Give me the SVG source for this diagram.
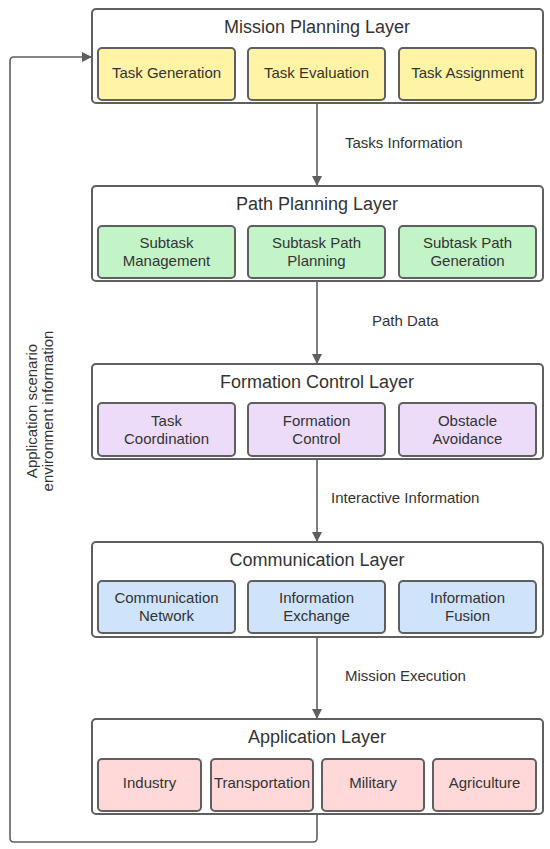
<svg xmlns="http://www.w3.org/2000/svg" width="550" height="849" viewBox="0 0 550 849">
<style>
.layer{fill:#fff;stroke:#5f5f5f;stroke-width:2}
.sub{stroke:#5f5f5f;stroke-width:2}
.y{fill:#fff4a6}.g{fill:#c3f4c8}.p{fill:#eddcf9}.b{fill:#cfe3fb}.r{fill:#ffd9da}
.t{font-family:"Liberation Sans",Arial,sans-serif;font-size:18px;fill:#333;text-anchor:middle}
.s{font-family:"Liberation Sans",Arial,sans-serif;font-size:15px;fill:#333;text-anchor:middle}
.l{font-family:"Liberation Sans",Arial,sans-serif;font-size:15px;fill:#333}
.c{fill:none;stroke:#5f5f5f;stroke-width:1.6}
</style>
<defs>
<marker id="ah" markerWidth="10" markerHeight="10" refX="9" refY="5" orient="auto" markerUnits="userSpaceOnUse">
<path d="M0,0 L10,5 L0,10 Z" fill="#5f5f5f"/>
</marker>
</defs>
<rect width="550" height="849" fill="#fff"/>
<g id="connectors">
<path class="c" d="M317,104 V185" marker-end="url(#ah)"/>
<path class="c" d="M317,282 V363" marker-end="url(#ah)"/>
<path class="c" d="M317,460 V541" marker-end="url(#ah)"/>
<path class="c" d="M317,638 V718" marker-end="url(#ah)"/>
<path class="c" d="M317,815 V838 Q317,842 313,842 H14 Q10,842 10,838 V61 Q10,57 14,57 H91" marker-end="url(#ah)"/>
<text class="l" x="345" y="148">Tasks Information</text>
<text class="l" x="372" y="326">Path Data</text>
<text class="l" x="331" y="503">Interactive Information</text>
<text class="l" x="345" y="681">Mission Execution</text>
<text class="l" transform="translate(37,411) rotate(-90)" text-anchor="middle">Application scenario</text>
<text class="l" transform="translate(53,411) rotate(-90)" text-anchor="middle">environment information</text>
</g>
<g id="mission">
<rect class="layer" x="92" y="9" width="451" height="94" rx="4"/>
<text class="t" x="317" y="33">Mission Planning Layer</text>
<rect class="sub y" x="98" y="48" width="137" height="52" rx="4"/>
<text class="s" x="166.5" y="78">Task Generation</text>
<rect class="sub y" x="248" y="48" width="137" height="52" rx="4"/>
<text class="s" x="316.5" y="78">Task Evaluation</text>
<rect class="sub y" x="399" y="48" width="137" height="52" rx="4"/>
<text class="s" x="467.5" y="78">Task Assignment</text>
</g>
<g id="path">
<rect class="layer" x="92" y="186" width="451" height="95" rx="4"/>
<text class="t" x="317" y="210">Path Planning Layer</text>
<rect class="sub g" x="98" y="226" width="137" height="52" rx="4"/>
<text class="s" x="166.5" y="248">Subtask</text>
<text class="s" x="166.5" y="266">Management</text>
<rect class="sub g" x="248" y="226" width="137" height="52" rx="4"/>
<text class="s" x="316.5" y="248">Subtask Path</text>
<text class="s" x="316.5" y="266">Planning</text>
<rect class="sub g" x="399" y="226" width="137" height="52" rx="4"/>
<text class="s" x="467.5" y="248">Subtask Path</text>
<text class="s" x="467.5" y="266">Generation</text>
</g>
<g id="formation">
<rect class="layer" x="92" y="364" width="451" height="95" rx="4"/>
<text class="t" x="317" y="388">Formation Control Layer</text>
<rect class="sub p" x="98" y="403" width="137" height="53" rx="4"/>
<text class="s" x="166.5" y="426">Task</text>
<text class="s" x="166.5" y="444">Coordination</text>
<rect class="sub p" x="248" y="403" width="137" height="53" rx="4"/>
<text class="s" x="316.5" y="426">Formation</text>
<text class="s" x="316.5" y="444">Control</text>
<rect class="sub p" x="399" y="403" width="137" height="53" rx="4"/>
<text class="s" x="467.5" y="426">Obstacle</text>
<text class="s" x="467.5" y="444">Avoidance</text>
</g>
<g id="communication">
<rect class="layer" x="92" y="542" width="451" height="95" rx="4"/>
<text class="t" x="317" y="566">Communication Layer</text>
<rect class="sub b" x="98" y="581" width="137" height="52" rx="4"/>
<text class="s" x="166.5" y="603">Communication</text>
<text class="s" x="166.5" y="621">Network</text>
<rect class="sub b" x="248" y="581" width="137" height="52" rx="4"/>
<text class="s" x="316.5" y="603">Information</text>
<text class="s" x="316.5" y="621">Exchange</text>
<rect class="sub b" x="399" y="581" width="137" height="52" rx="4"/>
<text class="s" x="467.5" y="603">Information</text>
<text class="s" x="467.5" y="621">Fusion</text>
</g>
<g id="application">
<rect class="layer" x="92" y="719" width="451" height="95" rx="4"/>
<text class="t" x="317" y="743">Application Layer</text>
<rect class="sub r" x="98" y="759" width="103" height="52" rx="4"/>
<text class="s" x="149.5" y="788">Industry</text>
<rect class="sub r" x="211" y="759" width="102" height="52" rx="4"/>
<text class="s" x="262" y="788">Transportation</text>
<rect class="sub r" x="322" y="759" width="102" height="52" rx="4"/>
<text class="s" x="373" y="788">Military</text>
<rect class="sub r" x="433" y="759" width="103" height="52" rx="4"/>
<text class="s" x="484.5" y="788">Agriculture</text>
</g>
</svg>
